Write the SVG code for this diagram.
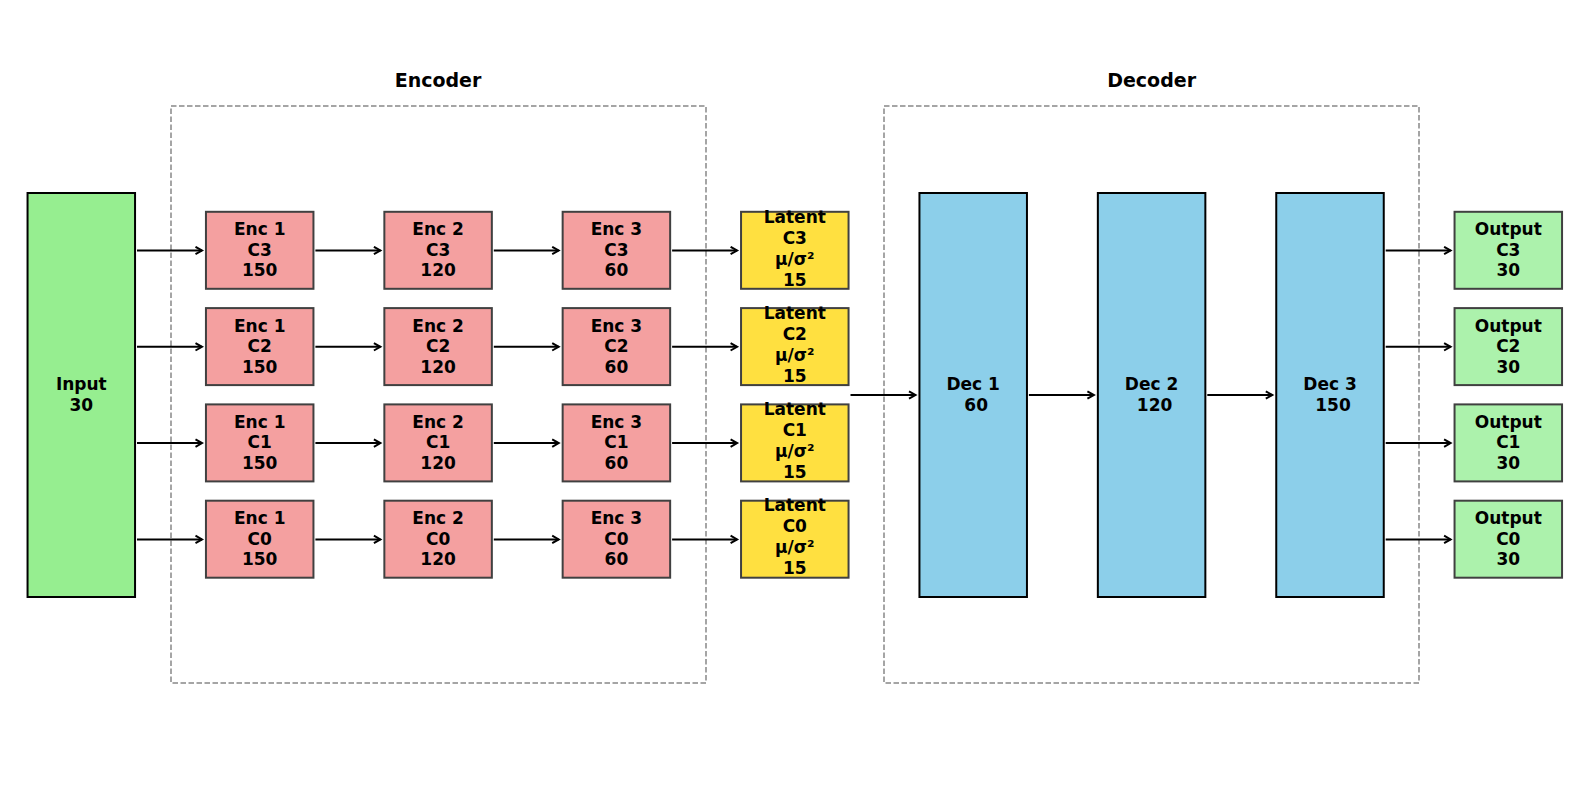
<svg xmlns="http://www.w3.org/2000/svg" width="1589" height="790" viewBox="0 0 1589 790">
<defs>
<style>
.t{font-family:"DejaVu Sans","Liberation Sans",sans-serif;font-weight:bold;font-size:17px;fill:#000;text-anchor:middle}
.title{font-size:19px}
.grp{fill:none;stroke:#888;stroke-width:1.5;stroke-dasharray:5.5,2.5}
.inp{fill:#96EE90;stroke:#000;stroke-width:2}
.enc{fill:#F4A0A0;stroke:#404040;stroke-width:2}
.lat{fill:#FFE040;stroke:#404040;stroke-width:2}
.dec{fill:#8CCFEA;stroke:#000;stroke-width:2}
.out{fill:#ACF2AC;stroke:#404040;stroke-width:2}
.c line{stroke:#000;stroke-width:2;marker-end:url(#ah)}
</style>
<marker id="ah" markerUnits="userSpaceOnUse" markerWidth="12" markerHeight="12" refX="9" refY="5" orient="auto">
<path d="M2.5,1.3 L9,5 L2.5,8.7" fill="none" stroke="#000" stroke-width="2"/>
</marker>
</defs>
<rect width="1589" height="790" fill="#fff"/>
<g id="encoder-group">
<rect class="grp" x="171" y="106" width="535" height="577"/>
<text class="t title" x="438" y="87">Encoder</text>
</g>
<g id="decoder-group">
<rect class="grp" x="884" y="106" width="535" height="577"/>
<text class="t title" x="1151.6" y="87">Decoder</text>
</g>
<g id="input"><rect class="inp" x="27.55" y="193" width="107.5" height="404"/><text class="t" x="81.3" y="390">Input</text><text class="t" x="81.3" y="410.5">30</text></g>

<g id="enc1-c3"><rect class="enc" x="205.95" y="211.8" width="107.5" height="77"/><text class="t" x="259.7" y="235.3">Enc 1</text><text class="t" x="259.7" y="255.8">C3</text><text class="t" x="259.7" y="276.3">150</text></g>
<g id="enc1-c2"><rect class="enc" x="205.95" y="308.1" width="107.5" height="77"/><text class="t" x="259.7" y="331.6">Enc 1</text><text class="t" x="259.7" y="352.1">C2</text><text class="t" x="259.7" y="372.6">150</text></g>
<g id="enc1-c1"><rect class="enc" x="205.95" y="404.4" width="107.5" height="77"/><text class="t" x="259.7" y="427.9">Enc 1</text><text class="t" x="259.7" y="448.4">C1</text><text class="t" x="259.7" y="468.9">150</text></g>
<g id="enc1-c0"><rect class="enc" x="205.95" y="500.7" width="107.5" height="77"/><text class="t" x="259.7" y="524.2">Enc 1</text><text class="t" x="259.7" y="544.7">C0</text><text class="t" x="259.7" y="565.2">150</text></g>

<g id="enc2-c3"><rect class="enc" x="384.35" y="211.8" width="107.5" height="77"/><text class="t" x="438.1" y="235.3">Enc 2</text><text class="t" x="438.1" y="255.8">C3</text><text class="t" x="438.1" y="276.3">120</text></g>
<g id="enc2-c2"><rect class="enc" x="384.35" y="308.1" width="107.5" height="77"/><text class="t" x="438.1" y="331.6">Enc 2</text><text class="t" x="438.1" y="352.1">C2</text><text class="t" x="438.1" y="372.6">120</text></g>
<g id="enc2-c1"><rect class="enc" x="384.35" y="404.4" width="107.5" height="77"/><text class="t" x="438.1" y="427.9">Enc 2</text><text class="t" x="438.1" y="448.4">C1</text><text class="t" x="438.1" y="468.9">120</text></g>
<g id="enc2-c0"><rect class="enc" x="384.35" y="500.7" width="107.5" height="77"/><text class="t" x="438.1" y="524.2">Enc 2</text><text class="t" x="438.1" y="544.7">C0</text><text class="t" x="438.1" y="565.2">120</text></g>

<g id="enc3-c3"><rect class="enc" x="562.65" y="211.8" width="107.5" height="77"/><text class="t" x="616.4" y="235.3">Enc 3</text><text class="t" x="616.4" y="255.8">C3</text><text class="t" x="616.4" y="276.3">60</text></g>
<g id="enc3-c2"><rect class="enc" x="562.65" y="308.1" width="107.5" height="77"/><text class="t" x="616.4" y="331.6">Enc 3</text><text class="t" x="616.4" y="352.1">C2</text><text class="t" x="616.4" y="372.6">60</text></g>
<g id="enc3-c1"><rect class="enc" x="562.65" y="404.4" width="107.5" height="77"/><text class="t" x="616.4" y="427.9">Enc 3</text><text class="t" x="616.4" y="448.4">C1</text><text class="t" x="616.4" y="468.9">60</text></g>
<g id="enc3-c0"><rect class="enc" x="562.65" y="500.7" width="107.5" height="77"/><text class="t" x="616.4" y="524.2">Enc 3</text><text class="t" x="616.4" y="544.7">C0</text><text class="t" x="616.4" y="565.2">60</text></g>

<g id="latent-c3"><rect class="lat" x="741.05" y="211.8" width="107.5" height="77"/><text class="t" x="794.8" y="222.5">Latent</text><text class="t" x="794.8" y="243.5">C3</text><text class="t" x="794.8" y="264.5">μ/σ²</text><text class="t" x="794.8" y="285.5">15</text></g>
<g id="latent-c2"><rect class="lat" x="741.05" y="308.1" width="107.5" height="77"/><text class="t" x="794.8" y="318.8">Latent</text><text class="t" x="794.8" y="339.8">C2</text><text class="t" x="794.8" y="360.8">μ/σ²</text><text class="t" x="794.8" y="381.8">15</text></g>
<g id="latent-c1"><rect class="lat" x="741.05" y="404.4" width="107.5" height="77"/><text class="t" x="794.8" y="415.1">Latent</text><text class="t" x="794.8" y="436.1">C1</text><text class="t" x="794.8" y="457.1">μ/σ²</text><text class="t" x="794.8" y="478.1">15</text></g>
<g id="latent-c0"><rect class="lat" x="741.05" y="500.7" width="107.5" height="77"/><text class="t" x="794.8" y="511.4">Latent</text><text class="t" x="794.8" y="532.4">C0</text><text class="t" x="794.8" y="553.4">μ/σ²</text><text class="t" x="794.8" y="574.4">15</text></g>

<g id="dec1"><rect class="dec" x="919.45" y="193" width="107.5" height="404"/><text class="t" x="973.2" y="390">Dec 1</text><text class="t" x="976.2" y="410.5">60</text></g>
<g id="dec2"><rect class="dec" x="1097.85" y="193" width="107.5" height="404"/><text class="t" x="1151.6" y="390">Dec 2</text><text class="t" x="1154.6" y="410.5">120</text></g>
<g id="dec3"><rect class="dec" x="1276.25" y="193" width="107.5" height="404"/><text class="t" x="1330" y="390">Dec 3</text><text class="t" x="1333" y="410.5">150</text></g>

<g id="out-c3"><rect class="out" x="1454.55" y="211.8" width="107.5" height="77"/><text class="t" x="1508.3" y="235.3">Output</text><text class="t" x="1508.3" y="255.8">C3</text><text class="t" x="1508.3" y="276.3">30</text></g>
<g id="out-c2"><rect class="out" x="1454.55" y="308.1" width="107.5" height="77"/><text class="t" x="1508.3" y="331.6">Output</text><text class="t" x="1508.3" y="352.1">C2</text><text class="t" x="1508.3" y="372.6">30</text></g>
<g id="out-c1"><rect class="out" x="1454.55" y="404.4" width="107.5" height="77"/><text class="t" x="1508.3" y="427.9">Output</text><text class="t" x="1508.3" y="448.4">C1</text><text class="t" x="1508.3" y="468.9">30</text></g>
<g id="out-c0"><rect class="out" x="1454.55" y="500.7" width="107.5" height="77"/><text class="t" x="1508.3" y="524.2">Output</text><text class="t" x="1508.3" y="544.7">C0</text><text class="t" x="1508.3" y="565.2">30</text></g>

<g id="connectors" class="c">
<line x1="137" y1="250.5" x2="202" y2="250.5"/>
<line x1="137" y1="346.8" x2="202" y2="346.8"/>
<line x1="137" y1="443.1" x2="202" y2="443.1"/>
<line x1="137" y1="539.4" x2="202" y2="539.4"/>
<line x1="315.4" y1="250.5" x2="380.4" y2="250.5"/>
<line x1="315.4" y1="346.8" x2="380.4" y2="346.8"/>
<line x1="315.4" y1="443.1" x2="380.4" y2="443.1"/>
<line x1="315.4" y1="539.4" x2="380.4" y2="539.4"/>
<line x1="493.8" y1="250.5" x2="558.7" y2="250.5"/>
<line x1="493.8" y1="346.8" x2="558.7" y2="346.8"/>
<line x1="493.8" y1="443.1" x2="558.7" y2="443.1"/>
<line x1="493.8" y1="539.4" x2="558.7" y2="539.4"/>
<line x1="672.1" y1="250.5" x2="737.1" y2="250.5"/>
<line x1="672.1" y1="346.8" x2="737.1" y2="346.8"/>
<line x1="672.1" y1="443.1" x2="737.1" y2="443.1"/>
<line x1="672.1" y1="539.4" x2="737.1" y2="539.4"/>
<line x1="850.5" y1="395" x2="915.5" y2="395"/>
<line x1="1028.9" y1="395" x2="1093.9" y2="395"/>
<line x1="1207.3" y1="395" x2="1272.3" y2="395"/>
<line x1="1385.7" y1="250.5" x2="1450.6" y2="250.5"/>
<line x1="1385.7" y1="346.8" x2="1450.6" y2="346.8"/>
<line x1="1385.7" y1="443.1" x2="1450.6" y2="443.1"/>
<line x1="1385.7" y1="539.4" x2="1450.6" y2="539.4"/>
</g>
</svg>
